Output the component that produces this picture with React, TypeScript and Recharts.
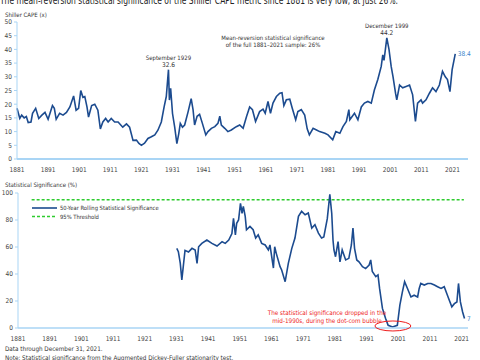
import React from 'react';
import { LineChart, Line, XAxis, YAxis, ReferenceLine, ReferenceDot } from 'recharts';

const FONT = '"Liberation Sans Narrow", "DejaVu Sans Condensed", Arial, sans-serif';
const NAVY = '#1c4b8f';
const LIGHT_BLUE = '#3b86cc';
const AXIS = '#a9d5f5';
const GREEN = '#2ecc2e';
const TEXT = '#333';

// Shiller CAPE (x)
const capeYears = [
  1881.0, 1881.9, 1882.5, 1883.3, 1884.0, 1884.6, 1885.5, 1886.0, 1887.0, 1888.0, 1889.0, 1890.0,
  1891.0, 1892.4, 1893.0, 1893.6, 1894.7, 1895.8, 1896.9, 1898.0, 1899.2, 1900.0, 1900.8, 1901.5,
  1902.2, 1902.8, 1903.5, 1904.0, 1905.0, 1906.0, 1907.0, 1907.8, 1908.6, 1909.5, 1910.3, 1911.3,
  1912.4, 1913.5, 1915.0, 1916.2, 1917.2, 1918.3, 1919.4, 1920.2, 1921.0, 1922.0, 1923.1, 1924.2,
  1925.3, 1926.3, 1927.4, 1928.3, 1929.0, 1929.7, 1930.0, 1930.4, 1931.0, 1931.7, 1932.4, 1933.0,
  1933.5, 1934.2, 1934.9, 1936.0, 1937.0, 1937.6, 1938.1, 1938.9, 1939.7, 1940.6, 1941.7, 1942.4,
  1943.5, 1944.6, 1945.6, 1946.2, 1946.7, 1947.8, 1948.8, 1949.9, 1951.5, 1952.6, 1953.7, 1954.8,
  1955.8, 1956.7, 1957.7, 1959.0, 1960.1, 1960.8, 1961.7, 1962.5, 1963.3, 1964.4, 1965.5, 1966.2,
  1966.8, 1967.6, 1968.7, 1969.5, 1970.6, 1971.3, 1972.4, 1973.5, 1974.3, 1975.0, 1976.2, 1977.3,
  1978.3, 1980.0, 1981.0, 1982.5, 1983.5, 1984.8, 1985.8, 1986.9, 1987.7, 1988.0, 1989.5, 1990.6,
  1991.7, 1992.7, 1993.8, 1994.9, 1995.9, 1997.0, 1998.1, 1998.6, 1999.0, 1999.9, 2000.6, 2001.3,
  2001.9, 2002.7, 2003.1, 2004.0, 2005.0, 2006.1, 2007.2, 2008.2, 2009.1, 2009.8, 2010.9, 2011.4,
  2012.5, 2013.6, 2014.6, 2015.7, 2016.8, 2017.8, 2018.7, 2019.4, 2020.2, 2020.9, 2021.9,
];
const capeValues = [
  18.5, 14.8, 16.0, 15.0, 15.5, 13.3, 13.5, 16.7, 18.5, 14.8, 16.0, 17.0,
  14.5, 19.5, 18.5, 14.5, 16.7, 16.0, 17.0, 19.0, 23.0, 17.8, 18.5, 25.0,
  22.5, 22.8, 19.0, 15.3, 19.5, 20.0, 17.8, 11.0, 13.5, 14.8, 13.5, 14.8,
  13.5, 13.5, 11.6, 12.8, 11.6, 6.8, 6.9, 5.7, 5.0, 5.8, 7.5, 8.1,
  8.8, 10.5, 13.5, 19.0, 22.8, 32.6, 21.5, 25.8, 16.6, 11.6, 5.6, 9.2,
  13.0, 11.6, 12.4, 17.2, 22.0, 18.0, 12.4, 15.6, 16.3, 13.0, 8.8, 10.0,
  11.2, 11.8, 13.0, 15.6, 12.4, 11.2, 10.0, 10.6, 11.8, 12.4, 11.2, 15.5,
  19.0, 18.0, 13.7, 17.3, 18.2, 16.7, 21.0, 16.7, 20.4, 22.8, 24.0, 24.2,
  19.5, 21.6, 21.8, 18.5, 14.3, 17.3, 18.0, 16.0, 11.0, 8.8, 11.2, 10.6,
  10.0, 9.4, 8.8, 7.0, 10.0, 9.4, 11.8, 13.7, 18.0, 14.3, 16.7, 14.3,
  19.0, 20.4, 21.0, 20.4, 25.2, 29.0, 33.8, 38.0, 36.0, 44.2, 40.0, 33.8,
  30.0, 24.0, 21.6, 27.0, 26.0, 26.5, 27.0, 23.4, 13.7, 20.4, 21.6, 20.4,
  21.6, 24.0, 26.0, 24.6, 27.0, 32.0, 30.0, 29.0, 24.6, 32.6, 38.4,
];

// 50-year rolling statistical significance (%)
const sigYears = [
  1931.1, 1931.6, 1932.2, 1932.7, 1933.2, 1933.7, 1934.8, 1935.9, 1936.9, 1937.5, 1938.0, 1939.0,
  1940.6, 1942.2, 1943.8, 1945.4, 1946.4, 1947.5, 1948.5, 1949.0, 1949.6, 1950.0, 1950.6, 1951.2,
  1951.7, 1952.1, 1952.7, 1953.1, 1954.2, 1955.2, 1956.0, 1956.8, 1957.9, 1959.0, 1960.0, 1960.5,
  1961.6, 1962.0, 1962.5, 1963.7, 1964.2, 1965.3, 1966.3, 1967.4, 1968.4, 1969.5, 1970.5, 1971.6,
  1972.6, 1973.7, 1974.7, 1975.8, 1976.8, 1977.5, 1978.6, 1979.4, 1980.0, 1980.4, 1980.7, 1981.2,
  1982.0, 1982.6, 1983.3, 1984.4, 1985.4, 1986.2, 1986.7, 1987.2, 1987.9, 1988.6, 1989.7, 1990.7,
  1991.8, 1992.3, 1992.8, 1993.9, 1994.6, 1995.1, 1996.0, 1997.0, 1997.8, 1999.2, 2000.7, 2001.5,
  2002.3, 2003.0, 2003.9, 2005.0, 2006.0, 2007.1, 2007.6, 2008.1, 2009.2, 2010.3, 2011.3, 2012.4,
  2013.4, 2014.5, 2015.5, 2016.3, 2017.1, 2017.9, 2018.7, 2019.5, 2020.0, 2020.6, 2021.3, 2021.9,
];
const sigValues = [
  59, 56.5, 48, 35.6, 46.6, 57.5, 56.3, 59, 57.8, 47.9, 60.2, 62.7,
  65.2, 62.7, 60.7, 63.9, 62.7, 65.2, 70, 81.2, 69, 77.5, 80, 92.3,
  85, 90, 82.7, 72.8, 75.3, 72.8, 66.6, 69, 62.7, 61.5, 57.8, 61.5,
  44.4, 60.2, 55.3, 45.4, 43, 34.3, 47.9, 59, 66.6, 82.7, 86.4, 83.9,
  85.2, 74, 76.5, 70.3, 66.6, 67.4, 81, 99, 85, 65.2, 57.8, 52.8,
  64, 49, 57.8, 50.4, 51.6, 61.5, 74, 59, 50.4, 49, 45.4, 44,
  46.6, 50.4, 41.8, 38, 39.3, 29.3, 14.5, 7, 2, 0.8, 2, 16.9,
  26.8, 34.3, 29.3, 23, 24.3, 23, 29.3, 33, 31.8, 33, 33, 31.8,
  30.6, 29.3, 30.6, 25.6, 20.6, 15.7, 18, 19.3, 33, 19.3, 11.9, 7,
];

const yearTicks = [1881, 1891, 1901, 1911, 1921, 1931, 1941, 1951, 1961, 1971, 1981, 1991, 2001, 2011, 2021];
const capeTicks = [0, 5, 10, 15, 20, 25, 30, 35, 40, 45, 50];
const sigTicks = [0, 20, 40, 60, 80, 100];
const threshold = 95;

const peaks = [
  { year: 1929.7, value: 32.6, label: 'September 1929' },
  { year: 1999.9, value: 44.2, label: 'December 1999' },
];

const capeData = capeYears.map((year, i) => ({ year, cape: capeValues[i] }));
const sigData = sigYears.map((year, i) => ({ year, sig: sigValues[i] }));

const tickStyle = { fontSize: 6.5, fill: '#444', fontFamily: FONT };

const PeakLabel = (props: any) => {
  const { cx, cy, label, value } = props;
  if (cx == null || cy == null) return null;
  return (
    <text textAnchor="middle" fontFamily={FONT} fill={TEXT}>
      <tspan x={cx} y={cy - 9.5} fontSize={6}>{label}</tspan>
      <tspan x={cx} y={cy - 3} fontSize={6.5}>{value}</tspan>
    </text>
  );
};

const EndLabel = (props: any) => {
  const { cx, cy, text } = props;
  if (cx == null || cy == null) return null;
  return (
    <text x={cx + 2.5} y={cy + 2} fontSize={6.5} fontFamily={FONT} fill={LIGHT_BLUE}>{text}</text>
  );
};

const Ellipse = (props: any) => {
  const { cx, cy } = props;
  if (cx == null || cy == null) return null;
  return <ellipse cx={cx} cy={cy} rx={18} ry={5} fill="none" stroke="#ee1c1c" strokeWidth={1} />;
};

export default function App() {
  return (
    <div style={{ position: 'absolute', left: 0, top: 0, width: 480, height: 360, background: '#fff', overflow: 'hidden' }}>
      <div style={{ position: 'absolute', left: 0, top: 0 }}>
        <LineChart width={480} height={180} data={capeData} margin={{ top: 22, right: 12, bottom: 0, left: 0 }}>
          <XAxis
            dataKey="year"
            type="number"
            domain={[1881, 2026]}
            ticks={yearTicks}
            interval={0}
            tickLine={false}
            stroke={AXIS}
            strokeWidth={2}
            tick={tickStyle}
            height={21}
          />
          <YAxis
            type="number"
            domain={[0, 50]}
            ticks={capeTicks}
            interval={0}
            width={17}
            tickSize={3}
            tickMargin={2}
            stroke={AXIS}
            tick={tickStyle}
          />
          <Line
            type="linear"
            dataKey="cape"
            stroke={NAVY}
            strokeWidth={1.6}
            dot={false}
            isAnimationActive={false}
          />
          {peaks.map((p) => (
            <ReferenceDot
              key={p.label}
              x={p.year}
              y={p.value}
              r={1}
              shape={(props: any) => <PeakLabel {...props} label={p.label} value={p.value} />}
            />
          ))}
          <ReferenceDot
            x={capeYears[capeYears.length - 1]}
            y={capeValues[capeValues.length - 1]}
            r={1}
            shape={(props: any) => <EndLabel {...props} text={String(capeValues[capeValues.length - 1])} />}
          />
        </LineChart>
      </div>

      <div style={{ position: 'absolute', left: 0, top: 180 }}>
        <LineChart width={480} height={170} data={sigData} margin={{ top: 13, right: 12, bottom: 0, left: 0 }}>
          <XAxis
            dataKey="year"
            type="number"
            domain={[1881, 2023]}
            ticks={yearTicks}
            interval={0}
            tickLine={false}
            stroke={AXIS}
            strokeWidth={1.5}
            tick={tickStyle}
            height={22}
          />
          <YAxis
            type="number"
            domain={[0, 100]}
            ticks={sigTicks}
            interval={0}
            width={18}
            tickSize={3}
            tickMargin={2}
            stroke={AXIS}
            tick={tickStyle}
          />
          <ReferenceLine
            segment={[{ x: 1885.3, y: threshold }, { x: 2021.7, y: threshold }]}
            stroke={GREEN}
            strokeWidth={1.3}
            strokeDasharray="3 2"
          />
          <Line
            type="linear"
            dataKey="sig"
            stroke={NAVY}
            strokeWidth={1.6}
            dot={false}
            isAnimationActive={false}
          />
          <ReferenceDot x={1999.3} y={1.5} r={1} shape={(props: any) => <Ellipse {...props} />} />
          <ReferenceDot
            x={sigYears[sigYears.length - 1]}
            y={sigValues[sigValues.length - 1]}
            r={1}
            shape={(props: any) => <EndLabel {...props} text={String(sigValues[sigValues.length - 1])} />}
          />
        </LineChart>
      </div>

      <svg width={480} height={360} style={{ position: 'absolute', left: 0, top: 0, pointerEvents: 'none' }} fontFamily={FONT}>
        <text x={0} y={4} fontSize={10.5} fill="#222" textLength={398} lengthAdjust="spacingAndGlyphs">
          The mean-reversion statistical significance of the Shiller CAPE metric since 1881 is very low, at just 26%.
        </text>
        <text x={5} y={17} fontSize={6} fill={TEXT}>Shiller CAPE (x)</text>
        <text textAnchor="middle" fill={TEXT} fontSize={6}>
          <tspan x={273} y={40}>Mean-reversion statistical significance</tspan>
          <tspan x={273} y={47}>of the full 1881–2021 sample: 26%</tspan>
        </text>
        <text x={5} y={187} fontSize={6} fill={TEXT}>Statistical Significance (%)</text>
        {/* legend */}
        <line x1={32} x2={57} y1={208} y2={208} stroke={NAVY} strokeWidth={1.6} />
        <text x={60} y={210} fontSize={5.8} fill={TEXT}>50-Year Rolling Statistical Significance</text>
        <line x1={32} x2={57} y1={216.5} y2={216.5} stroke={GREEN} strokeWidth={1.3} strokeDasharray="3 2" />
        <text x={60} y={218.5} fontSize={5.8} fill={TEXT}>95% Threshold</text>
        <text textAnchor="middle" fill="#ee1c1c" fontSize={6.3}>
          <tspan x={327} y={315}>The statistical significance dropped in the</tspan>
          <tspan x={327} y={323}>mid-1990s, during the dot-com bubble</tspan>
        </text>
        <text x={5} y={351} fontSize={6.3} fill={TEXT}>Data through December 31, 2021.</text>
        <text x={5} y={359.5} fontSize={6.3} fill={TEXT}>Note: Statistical significance from the Augmented Dickey-Fuller stationarity test.</text>
      </svg>
    </div>
  );
}
